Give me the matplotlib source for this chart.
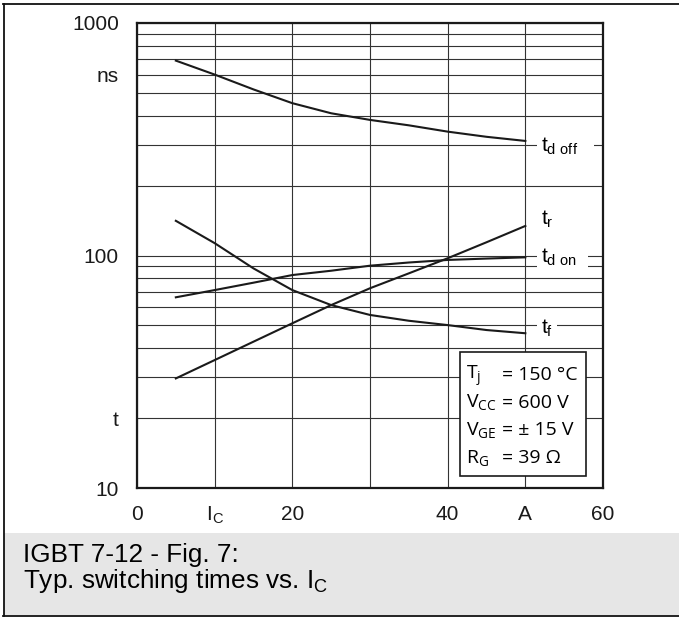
import matplotlib
matplotlib.use('Agg')
import matplotlib.pyplot as plt
from matplotlib.patches import Rectangle
from matplotlib.lines import Line2D

plt.rcParams['font.family'] = 'Liberation Sans'
plt.rcParams['mathtext.fontset'] = 'custom'
plt.rcParams['mathtext.rm'] = 'Liberation Sans'
plt.rcParams['mathtext.sf'] = 'Open Sans'

# collector current (A) and switching times (ns)
ic = [5, 10, 15, 20, 25, 30, 35, 40, 45, 50]
td_off = [689, 600, 518, 452, 409, 383, 363, 341, 324, 311]
t_r = [29.6, 35.5, 42.6, 51.1, 61.2, 72.3, 83.8, 97.3, 114, 134]
td_on = [66.1, 71.0, 76.4, 82.4, 86.0, 90.4, 93.3, 95.7, 97.0, 98.2]
t_f = [141, 113, 88, 71, 61.2, 55.5, 52.4, 50.2, 47.8, 46.3]

curve_labels = [r'$\mathrm{t_{d\ off}}$' + '\u00a0\u00a0\u00a0', r'$\mathrm{t_r}$',
                r'$\mathrm{t_{d\ on}}$' + '\u00a0\u00a0', r'$\mathrm{t_f}$' + '\u00a0']
label_y = [278.7, 135.3, 93.1, 46.3]

x_ticks = [0, 10, 20, 30, 40, 50, 60]
x_ticklabels = ['0', r'I$_\mathregular{C}$', '20', '', '40', 'A', '60']
y_major = [10, 100, 1000]
y_minor = [20, 30, 40, 50, 60, 70, 80, 90, 200, 300, 400, 500, 600, 700, 800, 900]
y_minor_labels = ['t', '', '', '', '', '', '', '', '', '', '', '', 'ns', '', '', '']

cond_left = [r'$\mathsf{T_j}$', r'$\mathsf{V_{CC}}$', r'$\mathsf{V_{GE}}$', r'$\mathsf{R_G}$']
cond_right = ['= 150 °C', '= 600 V', '= ± 15 V', '= 39 Ω']

W, H = 679, 617
fig = plt.figure(figsize=(W / 100, H / 100), dpi=100)
ax = fig.add_axes([137 / W, 1 - 488 / H, 466 / W, 465 / H])

for ys in (td_off, t_r, td_on, t_f):
    ax.plot(ic, ys, color='#1a1a1a', lw=1.5, zorder=3)

ax.set_yscale('log')
ax.set_xlim(0, 60)
ax.set_ylim(10, 1000)
ax.set_xticks(x_ticks, x_ticklabels)
ax.set_yticks(y_major, [str(v) for v in y_major])
ax.set_yticks(y_minor, y_minor_labels, minor=True)
ax.tick_params(which='both', length=0, labelsize=15, colors='#1a1a1a')
ax.tick_params(axis='y', which='both', pad=13)
ax.tick_params(axis='x', pad=12)
ax.grid(which='both', color='#333333', lw=0.8)
ax.set_axisbelow(True)
for sp in ax.spines.values():
    sp.set_linewidth(1.6)
    sp.set_color('#1a1a1a')

for lab, y in zip(curve_labels, label_y):
    ax.text(52.0, y, lab, fontsize=15, va='baseline', ha='left', zorder=4,
            bbox=dict(facecolor='white', edgecolor='none', pad=2.5))

# conditions box
fig.patches.append(Rectangle((460 / W, 1 - 476 / H), 126 / W, 124 / H,
                             transform=fig.transFigure, facecolor='white',
                             edgecolor='#1a1a1a', lw=1.2, zorder=5))
baselines = [380, 407.5, 435, 463]
for left, right, yb in zip(cond_left, cond_right, baselines):
    fig.text(466 / W, 1 - yb / H, left, fontsize=14, va='baseline', zorder=6)
    fig.text(502 / W, 1 - yb / H, right, fontsize=14, va='baseline',
             family='Open Sans', zorder=6)

# caption band and frame
fig.patches.append(Rectangle((4 / W, 1 - 615 / H), 1, 82.5 / H,
                             transform=fig.transFigure, facecolor='#e6e6e6',
                             edgecolor='none', zorder=0))
fig.text(23 / W, 1 - 555 / H, 'IGBT 7-12 - Fig. 7:', fontsize=18.8, va='center')
fig.text(23 / W, 1 - 581 / H, r'Typ. switching times vs. I$_\mathregular{C}$',
         fontsize=18.8, va='center')
fig.lines.append(Line2D([3 / W, 1], [1 - 3.5 / H, 1 - 3.5 / H], transform=fig.transFigure, color='#111', lw=1.3))
fig.lines.append(Line2D([3.5 / W, 3.5 / W], [1 - 616 / H, 1 - 3.5 / H], transform=fig.transFigure, color='#111', lw=1.3))
fig.lines.append(Line2D([3 / W, 1], [1 - 616 / H, 1 - 616 / H], transform=fig.transFigure, color='#111', lw=1.3))

fig.savefig('out.png', dpi=100)
